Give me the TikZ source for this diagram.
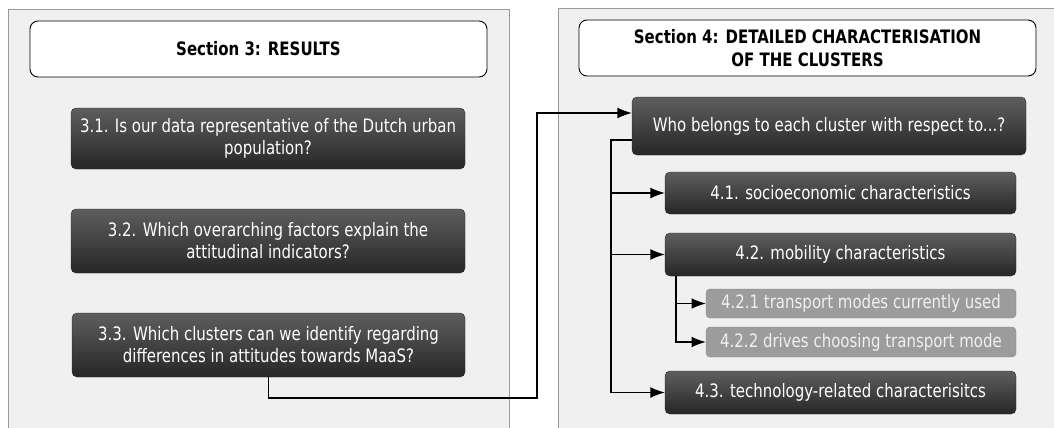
\documentclass[tikz,border=0pt]{standalone}
\usepackage{fontspec}
\setmainfont{DejaVu Sans}[FakeStretch=0.81]
\usetikzlibrary{arrows.meta}
\definecolor{panelbg}{HTML}{F0F0F0}
\definecolor{panelline}{HTML}{9A9A9A}
\definecolor{boxtop}{HTML}{5E5E5E}
\definecolor{boxbot}{HTML}{262626}
\definecolor{lightbox}{HTML}{9C9C9C}
\definecolor{lightline}{HTML}{8A8A8A}
\begin{document}
\begin{tikzpicture}[x=1pt,y=-1pt,
  panel/.style={fill=panelbg, draw=panelline, line width=1pt},
  titlebox/.style={draw=black, line width=0.9pt, fill=white, rounded corners=8pt, align=center, inner sep=0pt, font=\fontsize{18.5}{23}\selectfont\bfseries},
  darkbox/.style={rounded corners=5pt, top color=boxtop, bottom color=boxbot, draw=boxbot, text=white, align=center, inner sep=0pt, font=\fontsize{18.5}{22}\selectfont},
  litebox/.style={rounded corners=4pt, fill=lightbox, draw=lightline, text=white!94!black, align=center, inner sep=0pt, font=\fontsize{18.5}{22}\selectfont},
  conn/.style={line width=1.1pt, draw=black},
  arr/.style={conn, -{Latex[scale=1.8]}}
]
\useasboundingbox (0,0) rectangle (1054,428);
\begin{scope}
\clip (0,0) rectangle (1054,428);
\fill[white] (0,0) rectangle (1054,428);
\draw[panel] (8,10) rectangle (509,445);
\draw[panel] (558,9) rectangle (1070,445);
\end{scope}

% left side
\node[titlebox, minimum width=457pt, minimum height=56pt] (t3) at (258.5,49) {Section 3: RESULTS};
\node[darkbox, minimum width=394pt, minimum height=61pt] (b31) at (268,138.5) {3.1. Is our data representative of the Dutch urban\\population?};
\node[darkbox, minimum width=394pt, minimum height=64pt] (b32) at (268,241) {3.2. Which overarching factors explain the\\attitudinal indicators?};
\node[darkbox, minimum width=393pt, minimum height=64pt] (b33) at (268.5,345) {3.3. Which clusters can we identify regarding\\differences in attitudes towards MaaS?};

% right side
\node[titlebox, minimum width=457pt, minimum height=56pt] (t4) at (807.5,48) {Section 4: DETAILED CHARACTERISATION\\OF THE CLUSTERS};
\node[darkbox, minimum width=394pt, minimum height=58pt] (who) at (829,126) {Who belongs to each cluster with respect to...?};
\node[darkbox, minimum width=351pt, minimum height=42pt] (s41) at (840.5,193) {4.1. socioeconomic characteristics};
\node[darkbox, minimum width=351pt, minimum height=43pt] (s42) at (840.5,254.5) {4.2. mobility characteristics};
\node[litebox, minimum width=310pt, minimum height=29pt] (s421) at (861,303.5) {4.2.1 transport modes currently used};
\node[litebox, minimum width=310pt, minimum height=30pt] (s422) at (861,342) {4.2.2 drives choosing transport mode};
\node[darkbox, minimum width=351pt, minimum height=43pt] (s43) at (840.5,392.5) {4.3. technology-related characterisitcs};

\coordinate (bend) at (537,398);
\coordinate (trunk) at (611,0);
\coordinate (sub) at (676,0);

% connector from 3.3 to "Who belongs"
\draw[arr] (b33.south) |- (bend) |- ([yshift=13pt]who.west);

% tree from "Who belongs"
\draw[arr] ([yshift=-14pt]who.west) -| (trunk |- s43.west) -- (s43.west);
\draw[arr] (trunk |- s41.west) -- (s41.west);
\draw[arr] (trunk |- s42.west) -- (s42.west);

% sub-tree from 4.2
\draw[arr] (sub |- s42.south) |- (s422.west);
\draw[arr] (sub |- s421.west) -- (s421.west);
\end{tikzpicture}
\end{document}
